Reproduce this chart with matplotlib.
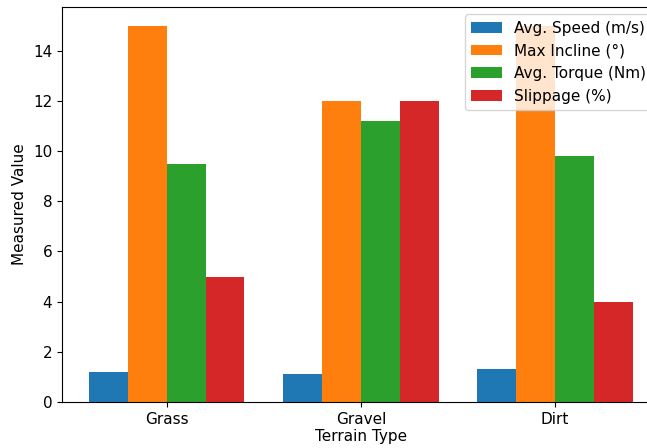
import matplotlib
matplotlib.use("Agg")
import matplotlib.pyplot as plt
import numpy as np

terrains = ["Grass", "Gravel", "Dirt"]
metrics = ["Avg. Speed (m/s)", "Max Incline (°)", "Avg. Torque (Nm)", "Slippage (%)"]
avg_speed = [1.2, 1.1, 1.3]
max_incline = [15, 12, 15]
avg_torque = [9.5, 11.2, 9.8]
slippage = [5, 12, 4]

series = [avg_speed, max_incline, avg_torque, slippage]

plt.rcParams["font.size"] = 11

fig = plt.figure(figsize=(6.47, 4.48), dpi=100)
# the original image is cropped on the right, so the axes runs past the figure edge
ax = fig.add_axes([0.0958, 0.1027, 0.924, 0.882])

x = np.arange(len(terrains))
width = 0.2
for i, (name, vals) in enumerate(zip(metrics, series)):
    ax.bar(x + (i - 1.5) * width, vals, width, label=name)

ax.set_xticks(x)
ax.set_xticklabels(terrains)
ax.set_xlabel("Terrain Type", labelpad=2)
ax.set_ylabel("Measured Value")
ax.legend(loc="upper right")

fig.savefig("out.png", dpi=100)
